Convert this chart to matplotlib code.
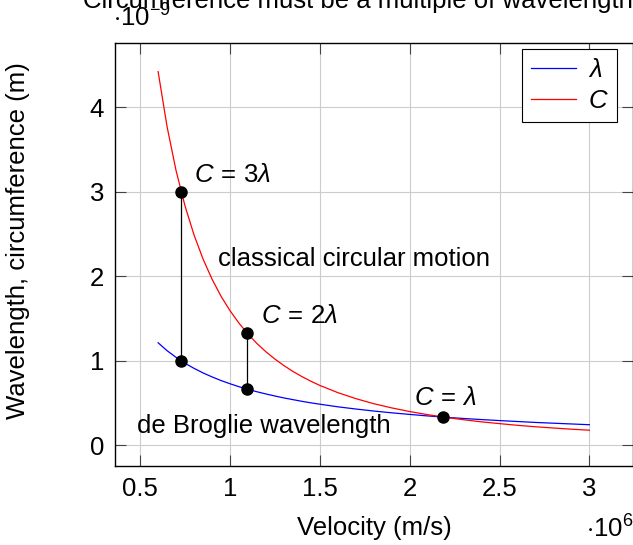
import matplotlib
matplotlib.use("Agg")
import matplotlib.pyplot as plt

# velocity in units of 1e6 m/s
velocity = [0.60, 0.65, 0.70, 0.75, 0.80, 0.85, 0.90, 0.95, 1.00, 1.05,
            1.10, 1.15, 1.20, 1.25, 1.30, 1.35, 1.40, 1.45, 1.50, 1.6, 1.7,
            1.8, 1.9, 2.0, 2.1, 2.2, 2.3, 2.4, 2.5, 2.6, 2.7, 2.8, 2.9, 3.0]
# de Broglie wavelength, units of 1e-9 m
wavelength = [1.212, 1.118, 1.039, 0.969, 0.909, 0.855, 0.808, 0.765, 0.727,
              0.692, 0.661, 0.632, 0.606, 0.582, 0.559, 0.539, 0.519, 0.501,
              0.485, 0.454, 0.428, 0.404, 0.383, 0.364, 0.346, 0.330, 0.316,
              0.303, 0.291, 0.280, 0.269, 0.260, 0.251, 0.242]
# classical orbit circumference, units of 1e-9 m
circumference = [4.421, 3.767, 3.248, 2.829, 2.487, 2.203, 1.965, 1.763, 1.592,
                 1.444, 1.315, 1.203, 1.105, 1.019, 0.942, 0.873, 0.812, 0.757,
                 0.707, 0.622, 0.551, 0.491, 0.441, 0.398, 0.361, 0.329, 0.301,
                 0.276, 0.255, 0.235, 0.218, 0.203, 0.189, 0.177]

# marked points where C = n * lambda
mark_v = [0.7285, 1.093, 2.186]
mark_c = [3.0, 1.333, 0.333]
mark_lam = [1.0, 0.667, 0.333]
mark_labels = [r'$C\,=\,3\lambda$', r'$C\,=\,2\lambda$', r'$C\,=\,\lambda$']

plt.rcParams['font.family'] = ['Liberation Sans', 'DejaVu Sans']
plt.rcParams['font.size'] = 18.5
plt.rcParams['mathtext.fontset'] = 'custom'
plt.rcParams['mathtext.rm'] = 'Liberation Sans'
plt.rcParams['mathtext.it'] = 'Liberation Sans:italic'

W, H = 633, 545
fig = plt.figure(figsize=(W / 100, H / 100), dpi=100)
ax = fig.add_axes([115 / W, 1 - 465.7 / H, (632.5 - 115) / W, (465.7 - 43) / H])

ax.plot(velocity, wavelength, color='#0000ff', lw=0.9, label=r'$\lambda$', zorder=3)
ax.plot(velocity, circumference, color='#ff0000', lw=0.9, label=r'$C$', zorder=3)

# vertical connectors
for v, c, l in zip(mark_v[:2], mark_c[:2], mark_lam[:2]):
    ax.plot([v, v], [l, c], color='black', lw=0.9, zorder=4)
    ax.plot([v], [l], 'o', color='black', ms=8, zorder=5)
ax.plot(mark_v, mark_c, 'o', color='black', ms=8, ls='none', zorder=5)

offsets = [((13, 10), 'left'), ((14, 10), 'left'), ((2, 12), 'center')]
for v, c, lab, (off, ha) in zip(mark_v, mark_c, mark_labels, offsets):
    ax.annotate(lab, (v, c), xytext=off, textcoords='offset pixels',
                ha=ha, va='baseline')

ax.text(1.69, 2.2, 'classical circular motion', ha='center', va='center')
ax.text(1.19, 0.23, 'de Broglie wavelength', ha='center', va='center')

ax.set_xlim(0.36, 3.24)
ax.set_ylim(-0.243, 4.76)
ax.set_xticks([0.5, 1, 1.5, 2, 2.5, 3])
ax.set_xticklabels(['0.5', '1', '1.5', '2', '2.5', '3'])
ax.set_yticks([0, 1, 2, 3, 4])
ax.grid(True, color='#cccccc', lw=0.8)
ax.set_axisbelow(True)
ax.tick_params(direction='in', top=True, right=True, length=8, width=0.8,
               color='#444444', pad=8)
for s in ax.spines.values():
    s.set_linewidth(1.0)

leg = ax.legend(loc='upper right', fancybox=False, edgecolor='black',
                framealpha=1, handlelength=1.75, handletextpad=0.45,
                borderpad=0.35, labelspacing=0.25, borderaxespad=0,
                bbox_to_anchor=(617.3 / W, 1 - 49.3 / H),
                bbox_transform=fig.transFigure)
leg.get_frame().set_linewidth(0.8)

fig.text(83 / W, 1 - 8 / H, 'Circumference must be a multiple of wavelength',
         ha='left', va='baseline')
fig.text(113 / W, 1 - 27 / H, r'$\cdot10^{-9}$', ha='left', va='baseline')
fig.text(633 / W, 1 - 538 / H, r'$\cdot10^{6}$', ha='right', va='baseline')
fig.text(374 / W, 1 - 535 / H, 'Velocity (m/s)', ha='center', va='baseline')
fig.text(18 / W, 1 - 241 / H, 'Wavelength, circumference (m)', ha='center',
         va='center', rotation=90)

fig.savefig('out.png', dpi=100)
